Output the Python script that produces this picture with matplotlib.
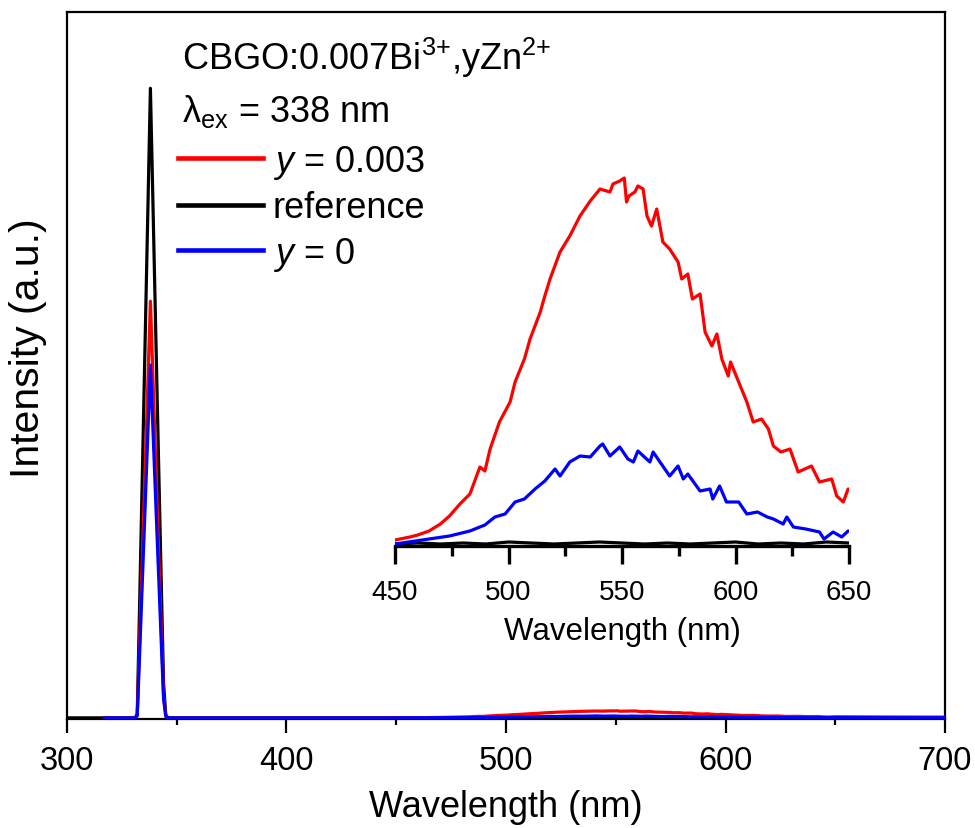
import matplotlib
matplotlib.use("Agg")
import matplotlib.pyplot as plt
from matplotlib.lines import Line2D
from matplotlib.ticker import MultipleLocator

plt.rcParams['font.family'] = ['Liberation Sans', 'DejaVu Sans']
plt.rcParams['mathtext.fontset'] = 'custom'
plt.rcParams['mathtext.rm'] = 'Liberation Sans'
plt.rcParams['mathtext.it'] = 'Liberation Sans:italic'
plt.rcParams['mathtext.bf'] = 'Liberation Sans:bold'

# ---------------- data ----------------
# excitation-light (scattered 338 nm) region
exc_wl_black = [300, 320, 331, 332, 333, 334, 335, 336, 337, 338, 339, 340, 341, 342, 343, 344, 345, 346, 360, 400, 449]
exc_black = [0, 0, 0, 200, 5500, 11000, 16500, 22000, 27500, 33000, 27800, 22500, 17200, 12000, 6800, 1800, 150, 0, 0, 0, 0]

exc_wl_color = [317, 331, 332, 333, 334, 335, 336, 337, 338, 339, 340, 341, 342, 343, 344, 345, 346, 360, 400, 449]
exc_red = [0, 0, 130, 3640, 7280, 10920, 14560, 18200, 21840, 18400, 14900, 11400, 7900, 4500, 1200, 100, 0, 0, 0, 0]
exc_blue = [0, 0, 110, 3080, 6160, 9240, 12330, 15410, 18490, 15580, 12600, 9650, 6700, 3800, 1000, 80, 0, 0, 0, 0]

# emission region (same intensity units)
em_wl_red = [450, 456.6, 460, 465, 470, 474, 478.6, 483, 487.4, 489.6, 491.9, 496, 500.7, 502.9, 507,
             509.5, 514, 516, 518.3, 522.7, 527, 531.5, 536, 540.3, 544.7, 546, 549, 551, 552, 553,
             555.7, 557, 559.3, 561, 563, 565.3, 568, 571, 574.7, 576.3, 579, 581, 584.4, 586.6,
             589.6, 591.8, 594, 596.8, 597.8, 601.4, 605, 607.8, 611.5, 614.5, 616.7, 620, 624,
             627.6, 633.5, 637, 642.4, 644.6, 647.5, 649.6, 655, 660, 670, 680, 690, 700]
em_red = [6, 9, 11, 15, 22, 30, 42, 52, 79, 75, 97, 124, 144, 164, 187,
          207, 234, 250, 267, 294, 310, 330, 345, 357, 354, 362, 365, 368, 344, 350,
          354, 360, 357, 330, 320, 337, 304, 297, 284, 267, 272, 247, 252, 214,
          200, 212, 187, 170, 184, 164, 144, 124, 127, 117, 100, 94, 97,
          74, 80, 64, 67, 50, 44, 57, 55, 52, 48, 45, 42, 40]

em_wl_blue = [450, 465, 474, 483, 489.6, 494, 498.5, 502.9, 507, 511.7, 516, 520.5, 522.7, 527,
              531.5, 536, 540.3, 541.5, 544.7, 549, 552.6, 555, 557, 562.3, 563.7, 571, 574.7,
              577, 579, 584.4, 588.8, 590, 593, 596, 601.4, 605, 609.7, 614, 616.7, 621, 622.6,
              625.5, 631, 637, 639, 643, 646.8, 649.6, 660, 680, 700]
em_blue = [2, 7, 10, 15, 21, 29, 32, 44, 47, 57, 65, 77, 70, 84,
           90, 89, 100, 102, 90, 99, 87, 84, 95, 84, 94, 70, 80,
           67, 72, 55, 57, 47, 60, 44, 44, 32, 34, 29, 27, 22, 29,
           19, 17, 14, 7, 14, 9, 15, 12, 10, 8]

em_wl_black = [450, 460, 470, 480, 490, 500, 510, 520, 530, 540, 550, 560, 570, 580, 590,
               600, 610, 620, 630, 640, 650, 660, 670, 680, 690, 700]
em_black = [2, 3, 2, 3, 2, 4, 3, 2, 3, 4, 3, 2, 3, 2, 3, 4, 2, 3, 2, 4, 3, 2, 3, 2, 3, 2]

labels = [r'$\it{y}$ = 0.003', 'reference', r'$\it{y}$ = 0']
colors = ['#FF0000', '#000000', '#0000FF']

black_wl = exc_wl_black + em_wl_black
black_I = exc_black + em_black
red_wl = exc_wl_color + em_wl_red
red_I = exc_red + em_red
blue_wl = exc_wl_color + em_wl_blue
blue_I = exc_blue + em_blue

# ---------------- figure ----------------
W, H = 975, 829
fig = plt.figure(figsize=(W / 100, H / 100), dpi=100)
ax = fig.add_axes([67 / W, 1 - 720 / H, 878 / W, 707 / H])

lw = 2.3
ax.plot(black_wl, black_I, color=colors[1], lw=lw, zorder=2)
ax.plot(red_wl, red_I, color=colors[0], lw=lw, zorder=3)
ax.plot(blue_wl, blue_I, color=colors[2], lw=lw, zorder=4)

ax.set_xlim(300, 700)
ax.set_ylim(-60, 37000)
ax.xaxis.set_major_locator(MultipleLocator(100))
ax.xaxis.set_minor_locator(MultipleLocator(50))
ax.set_yticks([])
ax.tick_params(axis='x', which='major', direction='out', length=10, width=1.6,
               labelsize=23.5, pad=9)
ax.tick_params(axis='x', which='minor', direction='out', length=4.5, width=1.6)
for s in ax.spines.values():
    s.set_linewidth(1.6)
ax.set_xlabel('Wavelength (nm)', fontsize=26, labelpad=9)
ax.set_ylabel('Intensity (a.u.)', fontsize=29.5)
ax.yaxis.set_label_coords(-0.0228, 0.526)

# legend
handles = [Line2D([], [], color=c, lw=3.3) for c in colors]
leg = ax.legend(handles, labels, loc='upper left', frameon=False,
                bbox_to_anchor=(178 / W, 1 - 144 / H), bbox_transform=fig.transFigure,
                borderpad=0, borderaxespad=0, fontsize=26, handlelength=2.35,
                handletextpad=0.28, labelspacing=0.26)

fig.text(182 / W, 1 - 70 / H, r'CBGO:0.007Bi$^{3{+}}$,yZn$^{2{+}}$', fontsize=26,
         ha='left', va='baseline')
fig.text(182 / W, 1 - 122 / H, r'λ$_{\mathrm{ex}}$ = 338 nm', fontsize=26,
         ha='left', va='baseline')

# ---------------- inset ----------------
ins = fig.add_axes([395 / W, 1 - 547 / H, 454 / W, 377 / H])
ins.patch.set_alpha(0)
ins.plot(em_wl_black, em_black, color=colors[1], lw=lw, zorder=2)
ins.plot(em_wl_red, em_red, color=colors[0], lw=lw, zorder=3)
ins.plot(em_wl_blue, em_blue, color=colors[2], lw=lw, zorder=4)
ins.set_xlim(450, 650)
ins.set_ylim(0, 377)
for k in ['top', 'right', 'left']:
    ins.spines[k].set_visible(False)
ins.spines['bottom'].set_linewidth(2.4)
ins.set_yticks([])
ins.xaxis.set_major_locator(MultipleLocator(50))
ins.xaxis.set_minor_locator(MultipleLocator(25))
ins.tick_params(axis='x', which='major', direction='out', length=13, width=2.4,
                labelsize=20, pad=11)
ins.tick_params(axis='x', which='minor', direction='out', length=7.5, width=2.4)
ins.set_xlabel('Wavelength (nm)', fontsize=22.5, labelpad=8)

fig.savefig('out.png', dpi=100)
